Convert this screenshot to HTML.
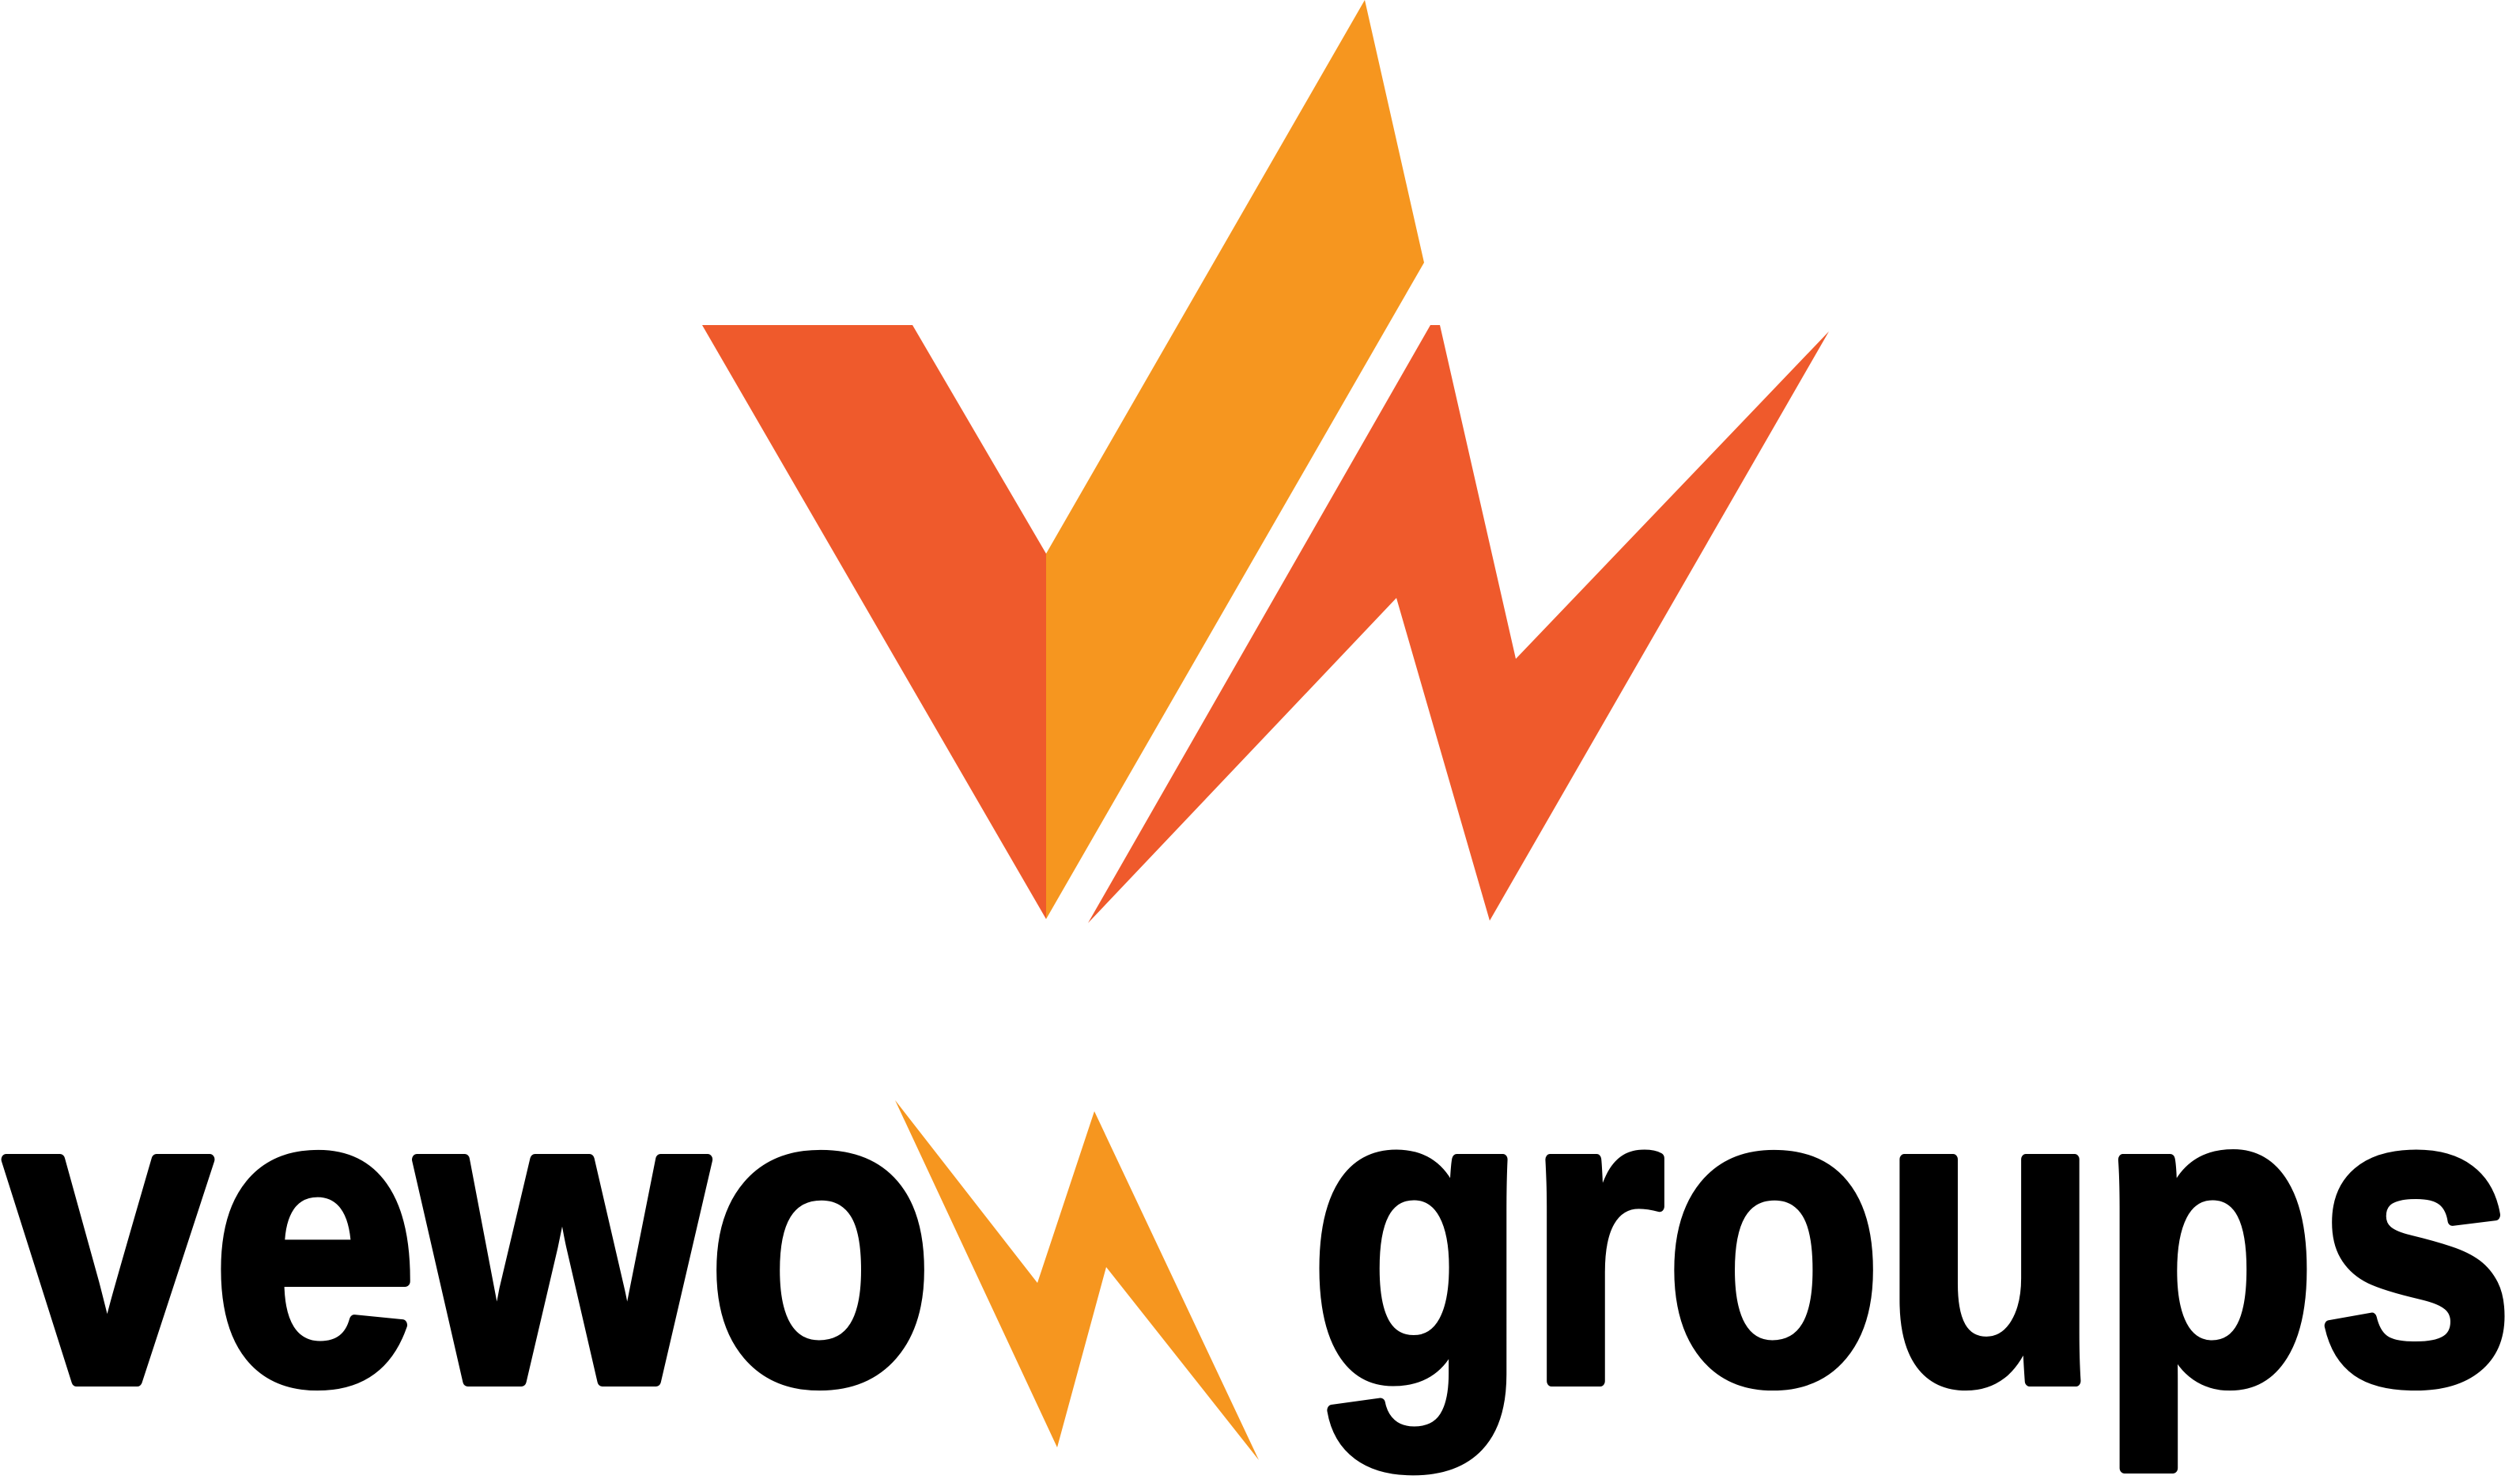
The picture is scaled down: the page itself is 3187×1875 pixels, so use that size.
<!DOCTYPE html>
<html>
<head>
<meta charset="utf-8">
<style>
  html,body{margin:0;padding:0;background:#fff;}
  svg{display:block;}
</style>
</head>
<body>
<svg width="3187" height="1875" viewBox="0 0 3187 1875" xmlns="http://www.w3.org/2000/svg">
  <g>
    <polygon fill="#EF5A2C" points="888,411 1154,411 1323,700 1323,1162"/>
    <polygon fill="#F6961F" points="1726,0 1801,332 1323,1162 1323,700"/>
    <polygon fill="#EF5A2C" points="1376,1167 1809,411 1821,411 1917,833 2313,419 1884,1164 1766,756"/>
  </g>
  <text x="6" y="1746" font-family="'Liberation Sans', sans-serif" font-weight="bold" font-size="530" textLength="1175" lengthAdjust="spacingAndGlyphs" fill="#000" stroke="#000" stroke-width="14" stroke-linejoin="round">vewo</text>
  <polygon fill="#F6961F" points="1132,1391 1312,1622 1384,1405 1592,1846 1399,1602 1337,1830"/>
  <text x="1656" y="1746" font-family="'Liberation Sans', sans-serif" font-weight="bold" font-size="530" textLength="1524" lengthAdjust="spacingAndGlyphs" fill="#000" stroke="#000" stroke-width="14" stroke-linejoin="round">groups</text>
</svg>
</body>
</html>
